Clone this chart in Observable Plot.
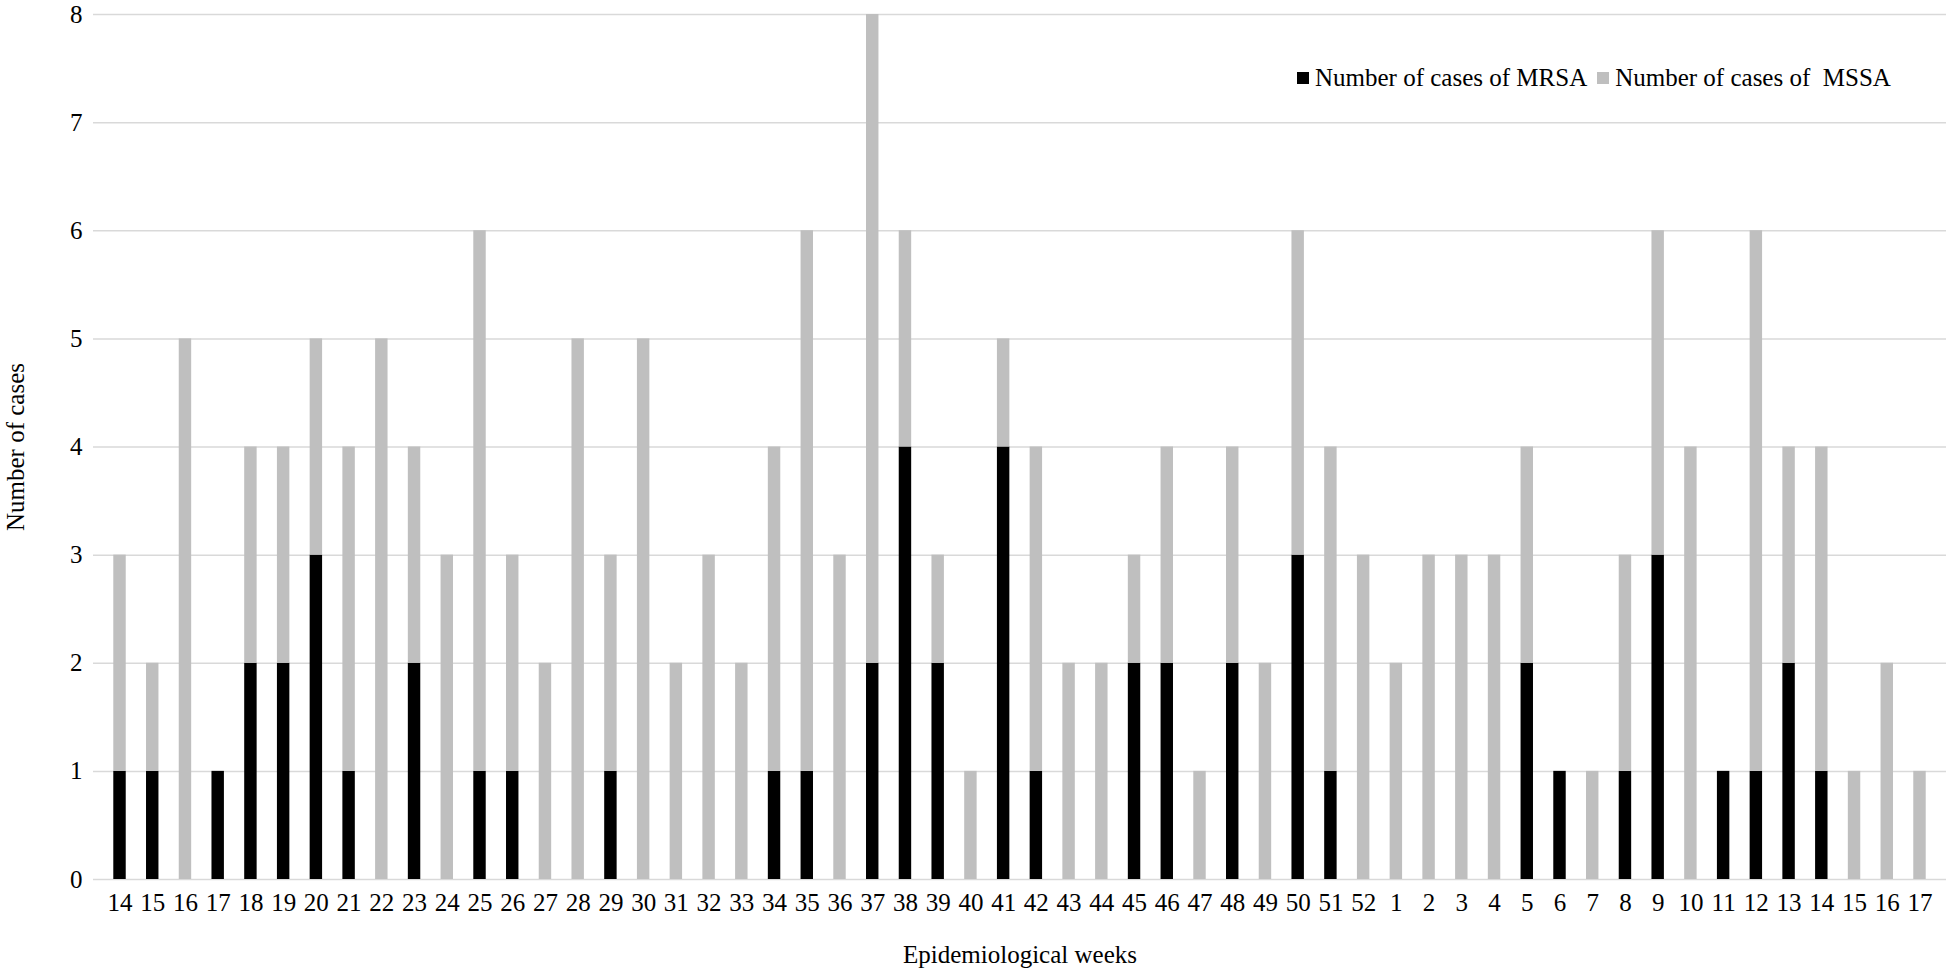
<!DOCTYPE html>
<html>
<head>
<meta charset="utf-8">
<script src="https://cdn.jsdelivr.net/npm/d3@7"></script>
<script src="https://cdn.jsdelivr.net/npm/@observablehq/plot@0.6"></script>
<style>
  html, body { margin: 0; padding: 0; background: #fff; }
  #wrap { position: relative; width: 1946px; height: 980px; font-family: "Liberation Serif", "Times New Roman", serif; }
  #chart svg, #chart svg text { font-family: "Liberation Serif", "Times New Roman", serif !important; }
  #legend { position: absolute; left: 1297px; top: 64px; font-size: 25px; color: #000; display: flex; align-items: center; white-space: nowrap; font-family: "Liberation Serif", "Times New Roman", serif; }
  #legend .sw { display: inline-block; width: 12px; height: 12px; margin-right: 6px; }
  #legend .item { display: flex; align-items: center; margin-right: 10px; }
</style>
</head>
<body>
<div id="wrap">
  <div id="chart"></div>
  <div id="legend"></div>
</div>
<script>
const weeks = [14,15,16,17,18,19,20,21,22,23,24,25,26,27,28,29,30,31,32,33,34,35,36,37,38,39,40,41,42,43,44,45,46,47,48,49,50,51,52,1,2,3,4,5,6,7,8,9,10,11,12,13,14,15,16,17];
const mrsa  = [1,1,0,1,2,2,3,1,0,2,0,1,1,0,0,1,0,0,0,0,1,1,0,2,4,2,0,4,1,0,0,2,2,0,2,0,3,1,0,0,0,0,0,2,1,0,1,3,0,1,1,2,1,0,0,0];
const mssa  = [2,1,5,0,2,2,2,3,5,2,3,5,2,2,5,2,5,2,3,2,3,5,3,6,2,1,1,1,3,2,2,1,2,1,2,2,3,3,3,2,3,3,3,2,0,1,2,3,4,0,5,2,3,1,2,1];
const seriesNames = ["Number of cases of MRSA", "Number of cases of  MSSA"];
const seriesColors = ["#000000", "#bfbfbf"];
const yTicks = [0,1,2,3,4,5,6,7,8];

const rows = [];
weeks.forEach((w, i) => {
  rows.push({key: String(i), series: seriesNames[0], value: mrsa[i]});
  rows.push({key: String(i), series: seriesNames[1], value: mssa[i]});
});
const keys = weeks.map((w, i) => String(i));

const chart = Plot.plot({
  width: 1946,
  height: 980,
  marginTop: 14,
  marginBottom: 101,
  marginLeft: 93,
  marginRight: 0,
  style: {fontFamily: '"Liberation Serif", "Times New Roman", serif', fontSize: "25px", color: "#000", background: "#fff"},
  x: {domain: keys, padding: 0.62, align: 0.5},
  y: {domain: [0, 8]},
  color: {domain: seriesNames, range: seriesColors},
  marks: [
    Plot.gridY(yTicks, {stroke: "#d9d9d9", strokeOpacity: 1, strokeWidth: 1.5}),
    Plot.barY(rows, {x: "key", y: "value", fill: "series", order: seriesNames, inset: 0}),
    Plot.axisY(yTicks, {tickSize: 0, tickPadding: 11, fontSize: 25, label: null, tickFormat: (d) => String(d)}),
    Plot.axisX(keys, {tickSize: 0, tickPadding: 14, fontSize: 25, label: null, tickFormat: (d) => String(weeks[+d])}),
    Plot.text(["Number of cases"], {frameAnchor: "left", dx: -78, rotate: -90, fontSize: 25, textAnchor: "middle"}),
    Plot.text(["Epidemiological weeks"], {frameAnchor: "bottom", dy: 83, fontSize: 25, textAnchor: "middle"})
  ]
});
document.getElementById("chart").appendChild(chart);

const legend = document.getElementById("legend");
seriesNames.forEach((name, i) => {
  const item = document.createElement("div");
  item.className = "item";
  const sw = document.createElement("span");
  sw.className = "sw";
  sw.style.background = seriesColors[i];
  item.appendChild(sw);
  const t = document.createElement("span");
  t.textContent = name;
  t.style.whiteSpace = "pre";
  item.appendChild(t);
  legend.appendChild(item);
});
</script>
</body>
</html>
